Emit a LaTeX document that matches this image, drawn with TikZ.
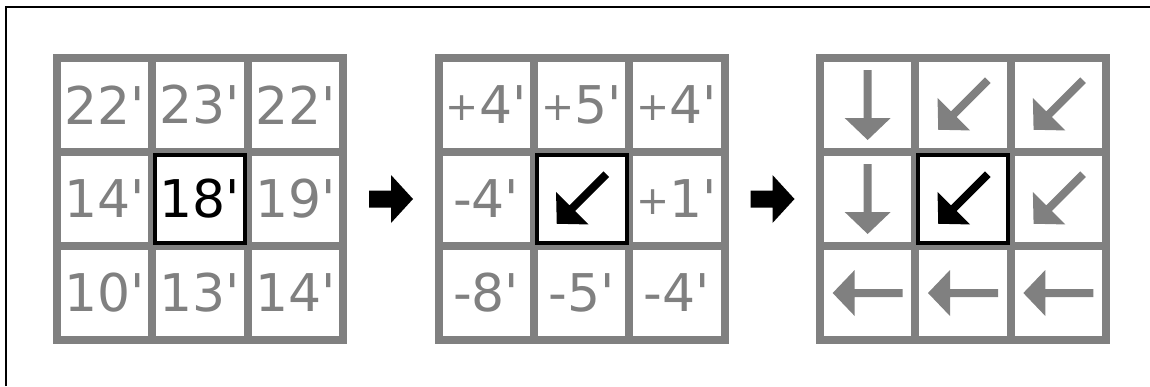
\documentclass[tikz,border=0pt]{standalone}
\usepackage{graphicx}
\usepackage{fontspec}
\setmainfont{DejaVu Sans}
\definecolor{gm}{RGB}{128,128,128}
\newcommand\q{\textquotesingle}
\newcommand\p{\raisebox{3.5bp}{\scalebox{0.76}{+}}}
\newcommand\myarr[3]{\fill[#1, shift={(#2)}, rotate=#3] (-35,-4) -- (13,-4) -- (13,-23) -- (35,0) -- (13,23) -- (13,4) -- (-35,4) -- cycle;}
\begin{document}
\begin{tikzpicture}[x=1bp,y=1bp,
  cell/.style={draw=gm, line width=8bp, fill=white, minimum width=95.33bp, minimum height=94bp, inner sep=0pt, font=\fontsize{52bp}{52bp}\selectfont, text=gm},
  hl/.style={draw=black, line width=4bp},
  blockarrow/.style={fill=black}]
\useasboundingbox (0,0) rectangle (1150,386);
\draw[line width=1.3bp] (6,0) -- (6,379) -- (1150,379);
% grid 1
\foreach \r/\c/\t in {0/0/22\q, 0/1/23\q, 0/2/22\q, 1/0/14\q, 1/2/19\q, 2/0/10\q, 2/1/13\q, 2/2/14\q}
  \node[cell] (a\r\c) at ({57+47.67+95.33*\c},{281-94*\r}) {\t};
\node[cell, text=black] (a11) at ({57+47.67+95.33},187) {18\q};
% grid 2
\foreach \r/\c/\t in {0/0/\p4\q, 0/1/\p5\q, 0/2/\p4\q, 1/0/-4\q, 1/2/\p1\q, 2/0/-8\q, 2/1/-5\q, 2/2/-4\q}
  \node[cell] (b\r\c) at ({438.5+47.67+95.33*\c},{281-94*\r}) {\t};
\node[cell] (b11) at ({438.5+47.67+95.33},187) {};
% grid 3
\foreach \r/\c in {0/0,0/1,0/2,1/0,1/1,1/2,2/0,2/1,2/2}
  \node[cell] (c\r\c) at ({820+47.67+95.33*\c},{281-94*\r}) {};
% highlight boxes
\foreach \n in {a11,b11,c11}
  \draw[hl] ([xshift=-45bp,yshift=-44bp]\n.center) rectangle ([xshift=45bp,yshift=44bp]\n.center);
% arrows
\myarr{black}{b11.center}{-135}
\myarr{black}{c11.center}{-135}
\myarr{gm}{c00.center}{-90}
\myarr{gm}{c10.center}{-90}
\myarr{gm}{c01.center}{-135}
\myarr{gm}{c02.center}{-135}
\myarr{gm}{c12.center}{-135}
\myarr{gm}{c20.center}{180}
\myarr{gm}{c21.center}{180}
\myarr{gm}{c22.center}{180}
% block arrows between grids
\coordinate (m1) at (391,187);
\coordinate (m2) at (772.5,187);
\foreach \m in {m1,m2}
  \fill[blockarrow, shift={(\m)}] (-22,-8.5) -- (0,-8.5) -- (0,-24) -- (22,0) -- (0,24) -- (0,8.5) -- (-22,8.5) -- cycle;
\end{tikzpicture}
\end{document}
